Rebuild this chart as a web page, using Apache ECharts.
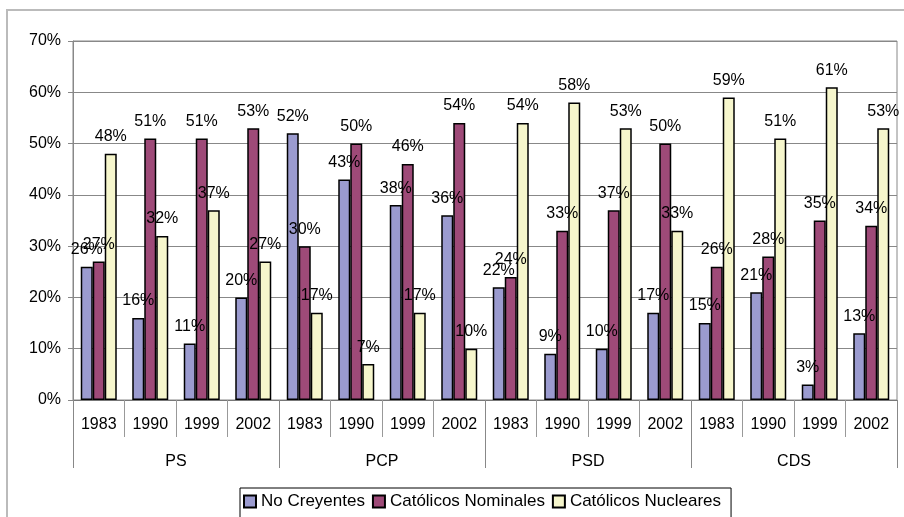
<!DOCTYPE html>
<html>
<head>
<meta charset="utf-8">
<script src="https://cdn.jsdelivr.net/npm/echarts@6/dist/echarts.min.js"></script>
<style>
html,body{margin:0;padding:0;background:#fff;}
#c{width:904px;height:517px;}
</style>
</head>
<body>
<div id="c"></div>
<script>
var years = ['1983','1990','1999','2002','1983','1990','1999','2002','1983','1990','1999','2002','1983','1990','1999','2002'];
var parties = ['PS','PCP','PSD','CDS'];
var seriesNames = ['No Creyentes','Católicos Nominales','Católicos Nucleares'];
var noCreyentes = [26,16,11,20,52,43,38,36,22,9,10,17,15,21,3,13];
var catolicosNominales = [27,51,51,53,30,50,46,54,24,33,37,50,26,28,35,34];
var catolicosNucleares = [48,32,37,27,17,7,17,10,54,58,53,33,59,51,61,53];
var yTicks = [0,10,20,30,40,50,60,70];

var colors = ['#9B9BCF','#9E4A78','#F6F6CC'];
var font = 'Liberation Sans, Arial, sans-serif';
var values = [noCreyentes, catolicosNominales, catolicosNucleares];

var chart = echarts.init(document.getElementById('c'), null, {renderer:'canvas'});
var series = values.map(function(v,i){
  return {
    name: seriesNames[i],
    type: 'bar',
    xAxisIndex: 0,
    data: v,
    barWidth: 12,
    barGap: '0%',
    itemStyle: {color: colors[i], borderColor:'#000', borderWidth:1.5},
    label: {show:true, position:'top', distance:9, formatter:'{c}%', color:'#000', fontSize:16, fontFamily:font},
    emphasis: {disabled:true},
    animation: false
  };
});

chart.setOption({
  animation: false,
  graphic: [{type:'rect', shape:{x:7,y:10,width:910,height:520}, style:{fill:'none', stroke:'#bbb', lineWidth:2}, silent:true}],
  grid: {left:73, right:7, top:41, bottom:117, show:true, borderColor:'#888', borderWidth:1, backgroundColor:'transparent'},
  legend: {
    left: 240, top: 488,
    data: seriesNames,
    icon: 'rect', itemWidth: 12, itemHeight: 12, itemGap: 7,
    borderColor: '#000', borderWidth: 1, padding: [5,10,8,3],
    textStyle: {fontSize:17, color:'#000', fontFamily:font},
    selectedMode: false
  },
  xAxis: [{
    type:'category', data: years, position:'bottom',
    axisLine:{show:true, lineStyle:{color:'#777'}},
    axisTick:{show:true, interval:0, length:37, lineStyle:{color:'#999'}},
    axisLabel:{interval:0, margin:17, fontSize:16, color:'#000', fontFamily:font},
    splitLine:{show:false}
  },{
    type:'category', data: parties, position:'bottom', gridIndex:0,
    axisLine:{show:false},
    axisTick:{show:true, interval:0, length:68, lineStyle:{color:'#888'}},
    axisLabel:{interval:0, margin:54, fontSize:16, color:'#000', fontFamily:font},
    splitLine:{show:false}
  }],
  yAxis: {
    type:'value', min:0, max:70, interval:10,
    axisLine:{show:true, lineStyle:{color:'#888'}},
    axisTick:{show:true, length:5, lineStyle:{color:'#888'}},
    axisLabel:{margin:12, fontSize:16, color:'#000', fontFamily:font, formatter:function(v){return yTicks.indexOf(v)>=0 ? v+'%' : '';}},
    splitLine:{show:true, lineStyle:{color:'#888', width:1}}
  },
  series: series
});
</script>
</body>
</html>
